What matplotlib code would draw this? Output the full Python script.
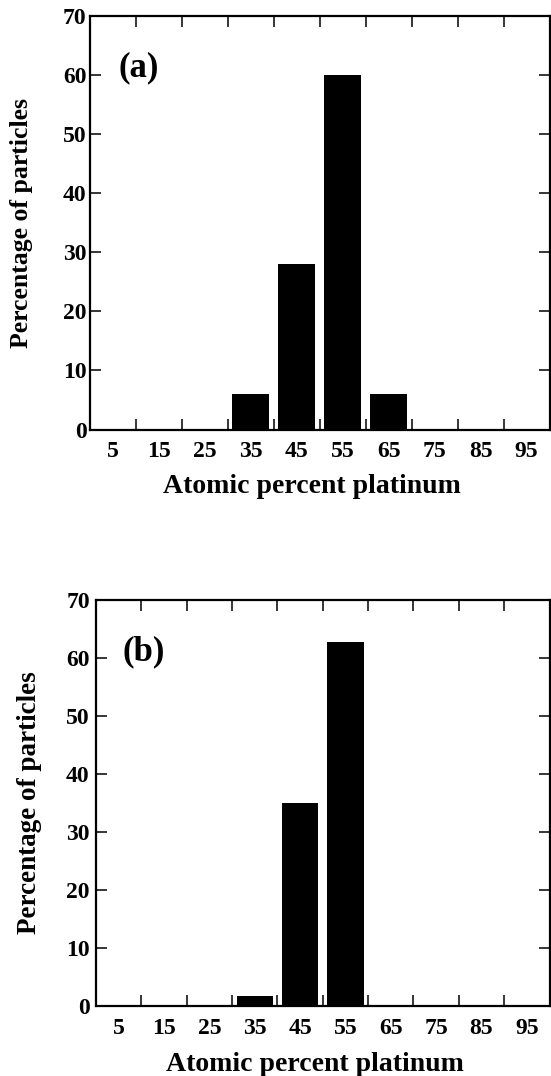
import matplotlib.pyplot as plt
import numpy as np

plt.rcParams['font.family'] = ['Liberation Serif', 'DejaVu Serif']
plt.rcParams['font.weight'] = 'bold'

# Datos
bins = [5, 15, 25, 35, 45, 55, 65, 75, 85, 95]
pct_a = [0, 0, 0, 6, 28, 60, 6, 0, 0, 0]
pct_b = [0, 0, 0, 1.8, 35, 62.8, 0, 0, 0, 0]
tick_labels = ['5', '15', '25', '35', '45', '55', '65', '75', '85', '95']
panel_tags = ['(a)', '(b)']

W, H = 551, 1076
fig = plt.figure(figsize=(W / 100, H / 100), dpi=100)

# posiciones de los ejes en pixeles: izquierda, derecha, arriba, abajo
boxes = [(90, 549.5, 16, 429.5), (96, 549.5, 600, 1006)]
ylab_x = [-0.124, -0.119]
ylab_size = [18.5, 19.5]
xlab_y = [-0.108, -0.114]
ypad = [2.5, 4.5]
tag_xy = [(6.3, 61.3), (5.9, 61.0)]


def panel(box, vals, tag, i):
    l, r, t, b = box
    ax = fig.add_axes([l / W, 1 - b / H, (r - l) / W, (b - t) / H])
    ax.bar(bins, vals, width=8, color='black', linewidth=0)
    ax.set_xlim(0, 100)
    ax.set_ylim(0, 70)
    # marcas en los bordes de los intervalos, etiquetas en los centros
    ax.set_xticks(np.arange(10, 100, 10))
    ax.set_xticklabels([])
    ax.set_xticks(bins, minor=True)
    ax.set_xticklabels(tick_labels, minor=True)
    ax.set_yticks(np.arange(0, 80, 10))
    ax.tick_params(which='major', direction='in', length=8, width=1.1,
                   top=True, right=True, labelsize=17, pad=ypad[i])
    ax.tick_params(axis='x', which='minor', length=0, labelsize=17, pad=8.5)
    for s in ax.spines.values():
        s.set_linewidth(1.6)
    ax.set_xlabel('Atomic percent platinum', fontsize=20, fontweight='bold')
    ax.xaxis.set_label_coords(0.483, xlab_y[i])
    ax.set_ylabel('Percentage of particles', fontsize=ylab_size[i], fontweight='bold')
    ax.yaxis.set_label_coords(ylab_x[i], 0.5)
    ax.text(tag_xy[i][0], tag_xy[i][1], tag, fontsize=25, fontweight='bold',
            ha='left', va='center')
    return ax


panel(boxes[0], pct_a, panel_tags[0], 0)
panel(boxes[1], pct_b, panel_tags[1], 1)

fig.savefig('out.png', dpi=100)
